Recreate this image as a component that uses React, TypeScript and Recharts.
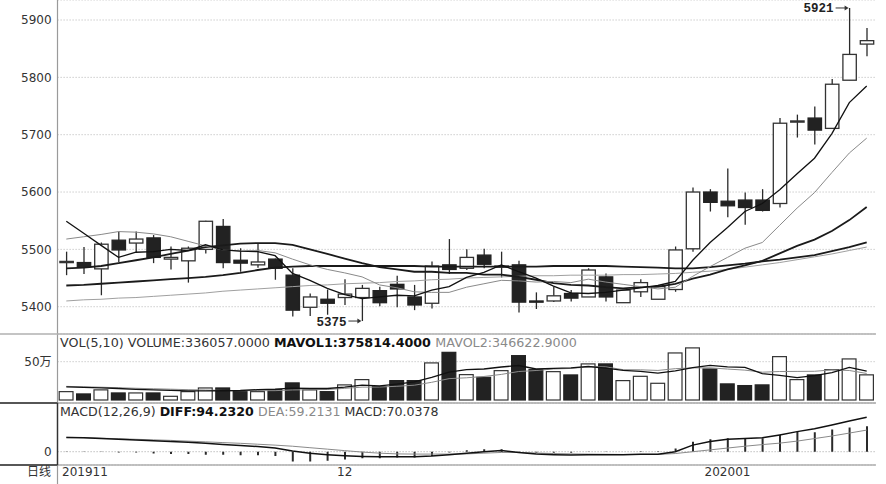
import React from "react";
import { Bar, CartesianGrid, ComposedChart, Line, XAxis, YAxis } from "recharts";

// daily candles, 2019-11-08 .. 2020-01-14
const open = [5477, 5477, 5466, 5516, 5511, 5520, 5483, 5480, 5500, 5540, 5481, 5473, 5483, 5455, 5399, 5413, 5416, 5416, 5428, 5439, 5417, 5406, 5473, 5467, 5490, 5471, 5473, 5410, 5410, 5423, 5417, 5452, 5407, 5426, 5413, 5430, 5501, 5600, 5584, 5586, 5586, 5580, 5722, 5729, 5711, 5795, 5858];
const high = [5496, 5504, 5512, 5531, 5531, 5525, 5505, 5505, 5550, 5553, 5502, 5511, 5484, 5467, 5423, 5430, 5448, 5438, 5435, 5454, 5438, 5479, 5518, 5500, 5501, 5496, 5480, 5425, 5435, 5429, 5467, 5458, 5429, 5448, 5435, 5505, 5608, 5605, 5641, 5599, 5605, 5729, 5735, 5749, 5797, 5921, 5886];
const low = [5455, 5457, 5420, 5478, 5495, 5476, 5465, 5442, 5493, 5467, 5461, 5468, 5447, 5383, 5384, 5386, 5403, 5375, 5401, 5399, 5394, 5397, 5457, 5464, 5467, 5451, 5390, 5396, 5408, 5409, 5417, 5409, 5407, 5417, 5413, 5426, 5496, 5566, 5556, 5543, 5566, 5573, 5695, 5683, 5711, 5795, 5837];
const close = [5479, 5470, 5509, 5499, 5518, 5486, 5486, 5502, 5549, 5477, 5476, 5478, 5467, 5394, 5417, 5406, 5422, 5432, 5407, 5431, 5403, 5471, 5465, 5486, 5474, 5471, 5408, 5409, 5419, 5415, 5464, 5417, 5429, 5442, 5435, 5499, 5600, 5582, 5576, 5573, 5568, 5720, 5724, 5708, 5788, 5840, 5864];

// moving averages
const ma5 = [5549, 5528, 5507, 5486, 5495, 5496, 5500, 5498, 5508, 5499, 5497, 5496, 5489, 5458, 5446, 5432, 5421, 5414, 5417, 5420, 5419, 5429, 5435, 5451, 5460, 5473, 5461, 5450, 5436, 5424, 5423, 5425, 5429, 5433, 5437, 5444, 5481, 5512, 5538, 5566, 5580, 5604, 5632, 5659, 5702, 5756, 5785];
const ma10 = [5518, 5522, 5526, 5531, 5530, 5527, 5522, 5514, 5506, 5499, 5497, 5498, 5494, 5483, 5473, 5465, 5459, 5452, 5438, 5433, 5426, 5425, 5425, 5434, 5440, 5446, 5445, 5443, 5444, 5442, 5448, 5443, 5439, 5435, 5431, 5434, 5453, 5470, 5486, 5502, 5512, 5542, 5572, 5599, 5634, 5668, 5694];
const ma20 = [5467, 5468, 5471, 5476, 5481, 5486, 5492, 5498, 5504, 5507, 5510, 5511, 5511, 5508, 5500, 5492, 5484, 5476, 5469, 5465, 5461, 5461, 5459, 5459, 5456, 5456, 5452, 5447, 5441, 5438, 5437, 5434, 5432, 5434, 5435, 5440, 5449, 5456, 5465, 5472, 5480, 5493, 5506, 5517, 5532, 5551, 5574];
const ma60 = [5437, 5438, 5440, 5442, 5444, 5446, 5448, 5450, 5452, 5455, 5459, 5464, 5468, 5470, 5471, 5471, 5471, 5471, 5471, 5471, 5471, 5470, 5470, 5470, 5470, 5470, 5470, 5470, 5471, 5471, 5471, 5471, 5470, 5469, 5468, 5467, 5467, 5469, 5472, 5475, 5479, 5482, 5486, 5490, 5497, 5504, 5512];
const ma120 = [5410, 5412, 5413, 5415, 5416, 5418, 5420, 5422, 5424, 5427, 5429, 5431, 5433, 5435, 5437, 5438, 5440, 5441, 5442, 5444, 5445, 5447, 5448, 5450, 5451, 5452, 5453, 5454, 5454, 5455, 5455, 5455, 5456, 5456, 5457, 5458, 5460, 5462, 5465, 5469, 5473, 5477, 5482, 5487, 5492, 5498, 5504];

// volume pane
const volume = [117000, 87000, 140000, 100000, 100000, 100000, 56000, 117000, 165000, 165000, 117000, 117000, 144000, 231000, 140000, 117000, 205000, 274000, 183000, 261000, 261000, 492000, 630000, 339000, 304000, 391000, 587000, 404000, 378000, 335000, 479000, 479000, 261000, 317000, 226000, 622000, 688000, 413000, 218000, 196000, 205000, 574000, 274000, 335000, 404000, 544000, 336057];
const mavol1 = [172000, 165000, 158000, 150000, 140000, 132000, 125000, 118000, 118000, 121000, 124000, 136000, 142000, 155000, 150000, 150000, 167000, 193000, 184000, 208000, 237000, 294000, 365000, 397000, 405000, 431000, 450000, 405000, 413000, 419000, 437000, 415000, 386000, 374000, 352000, 381000, 423000, 453000, 433000, 427000, 344000, 321000, 293000, 317000, 358000, 426000, 375814.4];
const mavol2 = [178000, 172000, 167000, 160000, 153000, 147000, 141000, 135000, 130000, 125000, 122000, 122000, 122000, 131000, 135000, 137000, 152000, 168000, 169000, 179000, 193000, 231000, 279000, 290000, 307000, 334000, 372000, 385000, 405000, 412000, 434000, 433000, 396000, 394000, 386000, 409000, 419000, 420000, 404000, 390000, 363000, 372000, 373000, 375000, 393000, 385000, 346622.9];

// MACD pane
const diff = [39, 38, 36, 34, 32, 30, 28, 26, 23, 20, 17, 14, 10, 2, -4, -8, -11, -13, -14, -14, -14, -12, -8, -4, 0, 3, -2, -6, -8, -9, -8, -8, -8, -7, -7, 0, 18, 28, 34, 36, 38, 46, 55, 63, 73, 84, 94.232];
const dea = [39.5, 38.5, 37, 35.5, 34, 32.5, 31, 29, 27, 25, 23, 20.5, 18, 15, 11, 7, 3, -1, -4, -6, -6.5, -6.5, -6.5, -6, -4, -2, -2, -3.5, -5, -6, -6.5, -7, -7.5, -7.5, -7.5, -5, 0, 5, 10, 15, 19.5, 23.5, 29, 36, 43, 51, 59.2131];
const macd = [-1, -1, -1, -2, -2, -5, -6, -6, -8, -8, -10, -10, -12, -27, -27, -25, -21, -18, -18, -16, -16, -12, -2, 4, 7, 7, -1, -3, -3, -3, -1, -1, 0, 1, 1, 9, 27, 34, 37, 37, 37, 46, 55, 53, 61, 66, 70.0378];

const priceTicks = [5400, 5500, 5600, 5700, 5800, 5900];
const dateTickIdx = [0, 16, 38];
const dateTickText = ["201911", "12", "202001"];

const rows = open.map((o, i) => ({
  i,
  open: o,
  high: high[i],
  low: low[i],
  close: close[i],
  range: [low[i], high[i]],
  up: close[i] >= o,
  ma5: ma5[i],
  ma10: ma10[i],
  ma20: ma20[i],
  ma60: ma60[i],
  ma120: ma120[i],
  volume: volume[i],
  mavol1: mavol1[i],
  mavol2: mavol2[i],
  diff: diff[i],
  dea: dea[i],
  macd: macd[i],
}));

const maxHigh = Math.max(...high);
const minLow = Math.min(...low);

const FONT = "'DejaVu Sans', 'Noto Sans CJK SC', sans-serif";
const W = 886;
const LEFT = 57.6;
const RIGHT = 10.6;
const INK = "#2a2a2a";

function Marker({ cx, y, text }: { cx: number; y: number; text: string }) {
  return (
    <g>
      <text
        x={cx - 16}
        y={y}
        dy={4.5}
        fill="#222"
        fontFamily="'Liberation Mono', monospace"
        fontSize={12.5}
        fontWeight="bold"
        textAnchor="end"
      >
        {text}
      </text>
      <line stroke="#333" strokeWidth={1} x1={cx - 14} x2={cx - 3} y1={y} y2={y} />
      <path d={`M${cx - 1},${y} L${cx - 5},${y - 2.5} L${cx - 5},${y + 2.5} Z`} fill="#333" />
    </g>
  );
}

function Candle(props: any) {
  const { x, y, width, height, payload } = props;
  const top = Math.min(y, y + height);
  const span = Math.abs(height);
  const cx = x + width / 2;
  const px = (v: number) =>
    payload.high === payload.low ? top : top + ((payload.high - v) / (payload.high - payload.low)) * span;
  const bTop = px(Math.max(payload.open, payload.close));
  const bBot = px(Math.min(payload.open, payload.close));
  const bodyH = Math.max(bBot - bTop, 1.2);
  return (
    <g>
      <line stroke={INK} strokeWidth={1.3} x1={cx} x2={cx} y1={top} y2={top + span} />
      <rect
        fill={payload.up ? "#fff" : "#222"}
        height={bodyH}
        stroke={payload.up ? "#333" : "#222"}
        strokeWidth={1.3}
        width={13.4}
        x={cx - 6.7}
        y={bTop}
      />
      {payload.high === maxHigh && <Marker cx={cx} text={String(maxHigh)} y={top} />}
      {payload.low === minLow && <Marker cx={cx} text={String(minLow)} y={top + span} />}
    </g>
  );
}

function VolBar(props: any) {
  const { x, y, width, height, payload } = props;
  const top = Math.min(y, y + height);
  const h = Math.abs(height);
  return (
    <rect
      fill={payload.up ? "#fff" : "#222"}
      height={Math.max(h - 0.6, 0.5)}
      stroke={payload.up ? "#333" : "#222"}
      strokeWidth={1.2}
      width={width - 1.2}
      x={x + 0.6}
      y={top + 0.6}
    />
  );
}

function DateTick(props: any) {
  const { x, y, payload } = props;
  const k = dateTickIdx.indexOf(payload.value);
  if (k < 0) return <g />;
  return (
    <text
      dy="0.71em"
      fill="#333"
      fontFamily={FONT}
      fontSize={12}
      textAnchor={k === 0 ? "start" : "middle"}
      x={k === 0 ? x - 4.3 : x}
      y={y}
    >
      {dateTickText[k]}
    </text>
  );
}

const tickStyle = { fill: "#333", fontSize: 12, fontFamily: FONT };

export default function App() {
  return (
    <div style={{ position: "absolute", left: 0, top: 0, width: W, height: 484, background: "#fff" }}>
      <div style={{ position: "absolute", left: 0, top: 0 }}>
        <ComposedChart data={rows} height={334} margin={{ top: 0, right: RIGHT, bottom: 0, left: 0 }} width={W}>
          <CartesianGrid stroke="#b4b4b4" strokeDasharray="1 2" vertical={false} />
          <XAxis dataKey="i" hide type="category" />
          <YAxis
            allowDataOverflow
            axisLine={false}
            domain={[5352.4, 5934.9]}
            interval={0}
            tick={tickStyle}
            tickLine={false}
            tickMargin={6}
            tickSize={0}
            ticks={priceTicks}
            type="number"
            width={LEFT}
          />
          <Bar barSize={14} dataKey="range" isAnimationActive={false} shape={Candle} />
          <Line dataKey="ma120" dot={false} isAnimationActive={false} stroke="#a0a0a0" strokeWidth={1} type="linear" />
          <Line dataKey="ma60" dot={false} isAnimationActive={false} stroke="#1a1a1a" strokeWidth={1.8} type="linear" />
          <Line dataKey="ma20" dot={false} isAnimationActive={false} stroke="#1a1a1a" strokeWidth={1.8} type="linear" />
          <Line dataKey="ma10" dot={false} isAnimationActive={false} stroke="#8a8a8a" strokeWidth={1} type="linear" />
          <Line dataKey="ma5" dot={false} isAnimationActive={false} stroke="#111" strokeWidth={1.3} type="linear" />
        </ComposedChart>
      </div>

      <div style={{ position: "absolute", left: 0, top: 334 }}>
        <ComposedChart data={rows} height={69} margin={{ top: 0, right: RIGHT, bottom: 0, left: 0 }} width={W}>
          <CartesianGrid stroke="#b4b4b4" strokeDasharray="1 2" vertical={false} />
          <XAxis dataKey="i" hide type="category" />
          <YAxis
            allowDataOverflow
            axisLine={false}
            domain={[-39164, 861619]}
            interval={0}
            tick={tickStyle}
            tickFormatter={() => "50万"}
            tickLine={false}
            tickMargin={6}
            tickSize={0}
            ticks={[500000]}
            type="number"
            width={LEFT}
          />
          <Bar barSize={15} dataKey="volume" isAnimationActive={false} shape={VolBar} />
          <Line dataKey="mavol2" dot={false} isAnimationActive={false} stroke="#8a8a8a" strokeWidth={1} type="linear" />
          <Line dataKey="mavol1" dot={false} isAnimationActive={false} stroke="#111" strokeWidth={1.3} type="linear" />
        </ComposedChart>
      </div>

      <div style={{ position: "absolute", left: 0, top: 403 }}>
        <ComposedChart data={rows} height={81} margin={{ top: 0, right: RIGHT, bottom: 0, left: 0 }} width={W}>
          <CartesianGrid stroke="#a0a0a0" strokeDasharray="1 2" vertical={false} />
          <XAxis
            axisLine={false}
            dataKey="i"
            height={19}
            interval={0}
            tick={DateTick}
            tickLine={false}
            tickMargin={2}
            tickSize={0}
            ticks={dateTickIdx}
            type="category"
          />
          <YAxis
            allowDataOverflow
            axisLine={false}
            domain={[-36.4, 133.4]}
            interval={0}
            tick={tickStyle}
            tickLine={false}
            tickMargin={6}
            tickSize={0}
            ticks={[0]}
            type="number"
            width={LEFT}
          />
          <Bar barSize={2} dataKey="macd" fill="#2a2a2a" isAnimationActive={false} />
          <Line dataKey="dea" dot={false} isAnimationActive={false} stroke="#8a8a8a" strokeWidth={1} type="linear" />
          <Line dataKey="diff" dot={false} isAnimationActive={false} stroke="#111" strokeWidth={1.5} type="linear" />
        </ComposedChart>
      </div>

      <svg height={484} style={{ position: "absolute", left: 0, top: 0, pointerEvents: "none" }} width={W}>
        <line stroke="#9a9a9a" strokeWidth={1.2} x1={57.5} x2={57.5} y1={0} y2={484} />
        <line stroke="#b0b0b0" strokeWidth={1.6} x1={0} x2={876} y1={334} y2={334} />
        <line stroke="#a8a8a8" strokeWidth={1.6} x1={0} x2={876} y1={403} y2={403} />
        <line stroke="#b0b0b0" strokeWidth={1.6} x1={0} x2={876} y1={465} y2={465} />
        <line stroke="#333" strokeWidth={1.4} x1={0} x2={57.5} y1={403} y2={403} />
        <line stroke="#333" strokeWidth={1.4} x1={0} x2={57.5} y1={465} y2={465} />
        <line stroke="#333" strokeWidth={1.4} x1={57.5} x2={57.5} y1={403} y2={465} />
        <text fontFamily={FONT} fontSize={12.7} x={60} y={347}>
          <tspan fill="#333">VOL(5,10) VOLUME:336057.0000 </tspan>
          <tspan fill="#111" fontWeight="bold">MAVOL1:375814.4000 </tspan>
          <tspan fill="#8a8a8a">MAVOL2:346622.9000</tspan>
        </text>
        <text fontFamily={FONT} fontSize={12.6} x={60} y={416}>
          <tspan fill="#333">MACD(12,26,9) </tspan>
          <tspan fill="#111" fontWeight="bold">DIFF:94.2320 </tspan>
          <tspan fill="#8a8a8a">DEA:59.2131 </tspan>
          <tspan fill="#333">MACD:70.0378</tspan>
        </text>
        <text fill="#333" fontFamily={FONT} fontSize={12} textAnchor="end" x={51} y={476}>
          日线
        </text>
      </svg>
    </div>
  );
}
